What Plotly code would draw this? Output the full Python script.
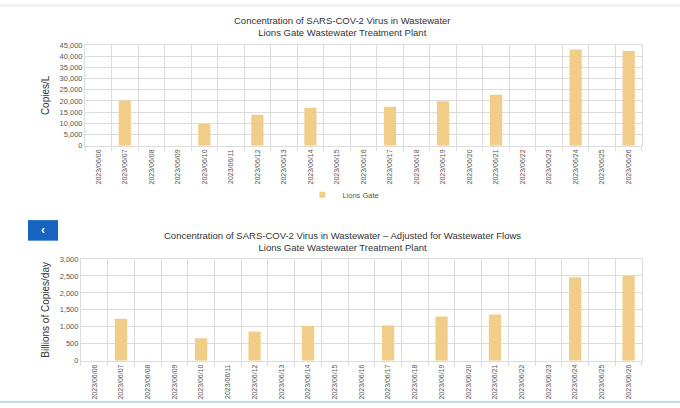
import plotly.graph_objects as go

dates = [
    "2023/06/06", "2023/06/07", "2023/06/08", "2023/06/09", "2023/06/10",
    "2023/06/11", "2023/06/12", "2023/06/13", "2023/06/14", "2023/06/15",
    "2023/06/16", "2023/06/17", "2023/06/18", "2023/06/19", "2023/06/20",
    "2023/06/21", "2023/06/22", "2023/06/23", "2023/06/24", "2023/06/25",
    "2023/06/26",
]
copies_per_l = [
    None, 20200, None, None, 9700, None, 13800, None, 17000, None,
    None, 17400, None, 19900, None, 22800, None, None, 43000, None, 42400,
]
billions_per_day = [
    None, 1240, None, None, 660, None, 860, None, 1025, None,
    None, 1035, None, 1300, None, 1365, None, None, 2460, None, 2495,
]

bar_color = "#f2cd89"
grid = "#dcdcdc"
font = "Liberation Sans, Arial, sans-serif"

fig = go.Figure()

fig.add_trace(go.Bar(
    x=dates, y=copies_per_l, name="Lions Gate",
    marker=dict(color=bar_color, line=dict(width=0)),
    xaxis="x", yaxis="y", showlegend=False,
))
fig.add_trace(go.Bar(
    x=dates, y=billions_per_day, name="Lions Gate",
    marker=dict(color=bar_color, line=dict(width=0)),
    xaxis="x2", yaxis="y2", showlegend=False,
))
# legend entry with a small square like the original
fig.add_trace(go.Scatter(
    x=[None], y=[None], mode="markers", name="Lions Gate",
    marker=dict(symbol="square", size=6, color=bar_color),
    xaxis="x", yaxis="y", showlegend=True,
))

xcommon = dict(
    type="category", tickson="boundaries", ticks="outside", ticklen=4,
    tickcolor=grid, showgrid=True, gridcolor=grid, gridwidth=1,
    tickangle=-90, tickfont=dict(size=7, color="#555"),
    showline=True, linecolor=grid, mirror=True, fixedrange=True,
)
ycommon = dict(
    showgrid=True, gridcolor=grid, gridwidth=1, zeroline=False,
    tickfont=dict(size=7.5, color="#555"), tickformat=",",
    ticks="", showline=True, linecolor=grid, mirror=True,
    title_font=dict(size=10, color="#333"), title_standoff=8,
)

fig.update_layout(
    width=680, height=408,
    margin=dict(l=0, r=0, t=0, b=0),
    paper_bgcolor="white", plot_bgcolor="white",
    font=dict(family=font, color="#333"),
    bargap=0.54,
    xaxis=dict(domain=[0.125, 0.944], anchor="y", **xcommon),
    yaxis=dict(domain=[0.645, 0.897], anchor="x", range=[0, 45000],
               dtick=5000, title_text="Copies/L", **ycommon),
    xaxis2=dict(domain=[0.119, 0.944], anchor="y2", **xcommon),
    yaxis2=dict(domain=[0.106, 0.361], anchor="x2", range=[0, 3000],
                dtick=500, title_text="Billions of Copies/day", **ycommon),
    showlegend=True,
    legend=dict(orientation="h", x=0.505, xanchor="center", y=1 - 195 / 408,
                yanchor="middle", font=dict(size=7.5, color="#555"),
                itemwidth=30, bgcolor="rgba(0,0,0,0)"),
    annotations=[
        dict(text="Concentration of SARS-COV-2 Virus in Wastewater<br>"
                  "Lions Gate Wastewater Treatment Plant",
             xref="paper", yref="paper", x=0.503, y=1 - 9 / 408,
             xanchor="center", yanchor="top", showarrow=False,
             font=dict(size=9.5, color="#333")),
        dict(text="Concentration of SARS-COV-2 Virus in Wastewater \u2013 "
                  "Adjusted for Wastewater Flows<br>"
                  "Lions Gate Wastewater Treatment Plant",
             xref="paper", yref="paper", x=0.503, y=1 - 229 / 408,
             xanchor="center", yanchor="top", showarrow=False,
             font=dict(size=9.5, color="#333")),
        dict(text="<b>\u2039</b>", xref="paper", yref="paper",
             x=43 / 680, y=1 - 231 / 408, xanchor="center", yanchor="middle",
             showarrow=False, font=dict(size=12, color="white")),
    ],
    shapes=[
        dict(type="rect", xref="paper", yref="paper",
             x0=0, x1=1, y0=1 - 3 / 408, y1=1,
             fillcolor="#f2f2f2", line=dict(width=0), layer="below"),
        dict(type="rect", xref="paper", yref="paper",
             x0=28 / 680, x1=58 / 680, y0=1 - 242 / 408, y1=1 - 221 / 408,
             fillcolor="#1565c0", line=dict(width=0)),
        dict(type="line", xref="paper", yref="paper",
             x0=0, x1=1, y0=1 / 408, y1=1 / 408,
             line=dict(color="#a9cde0", width=1.5)),
    ],
)

fig.write_html("out.html", config={"displayModeBar": False},
               post_script="document.body.style.margin='0';")
